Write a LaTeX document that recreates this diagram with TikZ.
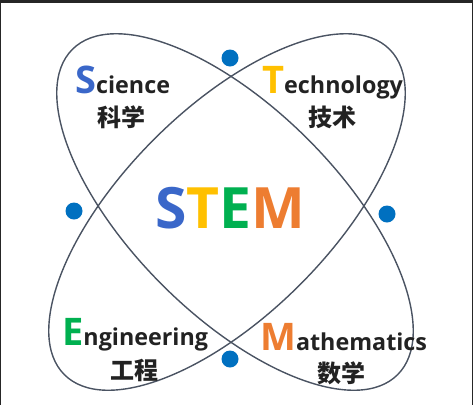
\documentclass[tikz,border=0pt]{standalone}
\usepackage{fontspec}
\setmainfont{Open Sans}
\newfontfamily\cjk{Noto Sans CJK SC}
\definecolor{framec}{HTML}{262626}
\definecolor{orbitc}{HTML}{4A5362}
\definecolor{dotc}{HTML}{0070C0}
\definecolor{sblue}{HTML}{3A67C9}
\definecolor{tyellow}{HTML}{FFC000}
\definecolor{egreen}{HTML}{00B050}
\definecolor{morange}{HTML}{ED7D31}
\definecolor{txt}{HTML}{222222}
\newcommand{\capL}[2]{{\color{#1}\fontsize{38}{38}\selectfont #2}}
\tikzset{
  orbit/.style={draw=orbitc, line width=1.4pt},
  dot/.style={circle, fill=dotc, minimum size=17pt, inner sep=0pt},
  enlab/.style={anchor=base west, inner sep=0pt, text=txt, font=\bfseries\fontsize{23.3}{23.3}\selectfont},
  cnlab/.style={inner sep=0pt, text=txt, font=\cjk\bfseries\fontsize{24}{24}\selectfont},
  big/.style={inner sep=0pt, font=\bfseries\fontsize{57}{57}\selectfont}
}
\begin{document}
\begin{tikzpicture}[x=1pt,y=-1pt]
\useasboundingbox (0,0) rectangle (473,405);
\fill[framec] (0,0) rectangle (473,3);
\fill[framec] (0,0) rectangle (1.2,405);
\fill[framec] (471.8,0) rectangle (473,405);
% orbits
\draw[orbit, rotate around={-45:(235,212)}] (235,212) ellipse [x radius=230, y radius=103];
\draw[orbit, rotate around={45:(227,212)}] (227,212) ellipse [x radius=230, y radius=103];
% dots
\node[dot] (dt) at (230,58) {};
\node[dot] (dl) at (74,211) {};
\node[dot] (dr) at (387,214) {};
\node[dot] (db) at (230,359) {};
% center
\node[big] (stem) at (230.5,208.5) {\color{sblue}S\color{tyellow}T\color{egreen}E\color{morange}M};
% labels
\node[enlab] (sci) at (75,93) {\capL{sblue}{S}cience};
\node[cnlab] (scicn) at (121,117) {科学};
\node[enlab] (tec) at (262,93) {\capL{tyellow}{T}echnology};
\node[cnlab] (teccn) at (332,117) {技术};
\node[enlab] (eng) at (62,345) {\capL{egreen}{E}ngineering};
\node[cnlab] (engcn) at (134,370) {工程};
\node[enlab] (mat) at (260,350) {\capL{morange}{M}athematics};
\node[cnlab] (matcn) at (341,373) {数学};
\end{tikzpicture}
\end{document}
